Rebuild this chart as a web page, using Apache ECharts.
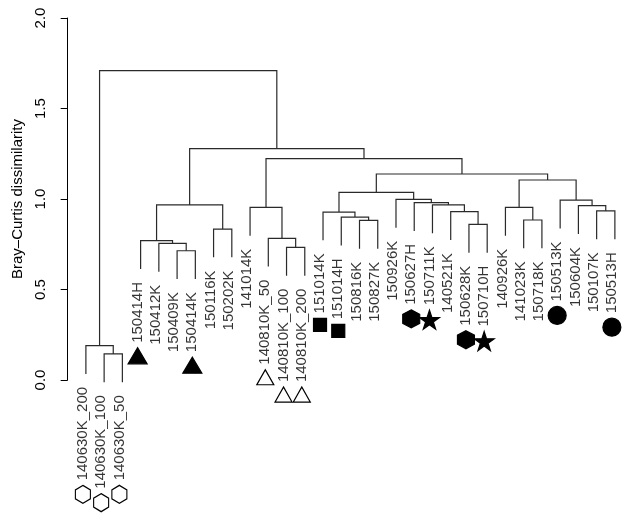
<!DOCTYPE html>
<html>
<head>
<meta charset="utf-8">
<script src="https://cdn.jsdelivr.net/npm/echarts@6/dist/echarts.min.js"></script>
<style>html,body{margin:0;padding:0;background:#fff}#c{width:630px;height:521px}</style>
</head>
<body>
<div id="c"></div>
<script>
// Leaves in dendrogram order
const leafLabels = ['140630K_200','140630K_100','140630K_50','150414H','150412K','150409K','150414K',
  '150116K','150202K','141014K','140810K_50','140810K_100','140810K_200','151014K','151014H',
  '150816K','150827K','150926K','150627H','150711K','140521K','150628K','150710H','140926K',
  '141023K','150718K','150513K','150604K','150107K','150513H'];
// Symbol drawn under each label ('' = none)
const leafSymbols = ['hexOpen','hexOpen','hexOpen','triFill','','','triFill','','','',
  'triOpen','triOpen','triOpen','square','square','','','','hexFill','star','','hexFill','star',
  '','','','circle','','','circle'];
// hclust-style merge table: negative = leaf (1-based), positive = earlier merge row (1-based)
const mergeA = [-2,-1,-6,-5,-4,-8, 5,-12,-11,-10,-16,-15,-14,-22,-21,-20,-19,-18,13,-25,-24,-29,-28,-27,21,19,10, 7, 2];
const mergeB = [-3, 1,-7, 3, 4,-9, 6,-13,  8,  9,-17, 11, 12,-23, 14, 15, 16, 17,18,-26, 20,-30, 22, 23,24,25,26,27,28];
const mergeHeights = [0.144,0.19,0.714,0.755,0.77,0.834,0.967,0.733,0.783,0.954,0.882,0.90,0.928,0.86,0.93,
  0.967,0.98,0.998,1.037,0.884,0.954,0.934,0.963,0.994,1.105,1.138,1.223,1.278,1.709];
const yTicks = [0, 0.5, 1.0, 1.5, 2.0];
const hangFrac = 0.1;

const FONT = 'Liberation Sans';
const FS = 15;
const hMax = Math.max(...mergeHeights), hMin = Math.min(...mergeHeights);
const hang = hangFrac * (hMax - hMin);

// positions of merge nodes
const nodeX = [];
function childX(c) { return c < 0 ? (-c) : nodeX[c - 1]; }
const segs = [];
const leafBottom = new Array(leafLabels.length);
for (let i = 0; i < mergeA.length; i++) {
  const h = mergeHeights[i];
  const a = mergeA[i], b = mergeB[i];
  const xa = childX(a), xb = childX(b);
  const ya = a < 0 ? h - hang : mergeHeights[a - 1];
  const yb = b < 0 ? h - hang : mergeHeights[b - 1];
  if (a < 0) leafBottom[-a - 1] = h - hang;
  if (b < 0) leafBottom[-b - 1] = h - hang;
  nodeX.push((xa + xb) / 2);
  segs.push([xa, ya, xb, yb, h]);
}

const cv = document.createElement('canvas').getContext('2d');
cv.font = FS + 'px "' + FONT + '"';
const labelGap = 13;

const symDefs = {
  hexOpen: {symbol: 'path://M0,-1L0.866,-0.5L0.866,0.5L0,1L-0.866,0.5L-0.866,-0.5Z', size: [15, 18], fill: '#fff'},
  hexFill: {symbol: 'path://M0,-1L0.866,-0.5L0.866,0.5L0,1L-0.866,0.5L-0.866,-0.5Z', size: [17, 18], fill: '#000'},
  triFill: {symbol: 'triangle', size: [19, 16], fill: '#000'},
  triOpen: {symbol: 'triangle', size: [17, 15], fill: '#fff'},
  square: {symbol: 'rect', size: [13, 13], fill: '#000'},
  circle: {symbol: 'circle', size: [18, 18], fill: '#000'},
  star: {symbol: 'path://M0,-1L0.2245,-0.309L0.9511,-0.309L0.3633,0.118L0.5878,0.809L0,0.382L-0.5878,0.809L-0.3633,0.118L-0.9511,-0.309L-0.2245,-0.309Z', size: [20, 19], fill: '#000'}
};

const labelData = leafLabels.map((l, i) => ({value: [i + 1, leafBottom[i]], name: l}));
const symData = [];
leafSymbols.forEach((s, i) => {
  if (!s) return;
  const d = symDefs[s];
  const tw = cv.measureText(leafLabels[i]).width;
  symData.push({
    value: [i + 1, leafBottom[i]],
    symbol: d.symbol,
    symbolSize: d.size,
    symbolOffset: [-3, labelGap + tw + d.size[1] / 2 + 5],
    itemStyle: {color: d.fill, borderColor: '#000', borderWidth: 1.2, opacity: 1}
  });
});

const chart = echarts.init(document.getElementById('c'), null, {renderer: 'canvas'});
chart.setOption({
  animation: false,
  backgroundColor: '#fff',
  grid: {left: 64, right: 6, top: 18, bottom: 141},
  xAxis: {type: 'value', min: -0.2, max: 30.5, show: false},
  yAxis: {
    type: 'value', min: 0, max: 2, interval: 0.5,
    name: 'Bray\u2013Curtis dissimilarity', nameLocation: 'middle', nameRotate: 90, nameGap: 38,
    nameTextStyle: {fontFamily: FONT, fontSize: FS, color: '#000'},
    axisLine: {show: true, lineStyle: {color: '#000', width: 1}},
    axisTick: {show: true, length: 7, lineStyle: {color: '#000'}},
    axisLabel: {rotate: 90, margin: 16, fontFamily: FONT, fontSize: FS, color: '#000',
      formatter: v => v.toFixed(1)},
    splitLine: {show: false}
  },
  series: [
    {
      type: 'custom', clip: false,
      data: segs,
      encode: {x: [0, 2], y: [1, 3, 4]},
      renderItem: function (params, api) {
        const p1 = api.coord([api.value(0), api.value(1)]);
        const p2 = api.coord([api.value(0), api.value(4)]);
        const p3 = api.coord([api.value(2), api.value(4)]);
        const p4 = api.coord([api.value(2), api.value(3)]);
        return {type: 'polyline', shape: {points: [p1, p2, p3, p4]},
          style: {stroke: '#2a2a2a', lineWidth: 1.2, fill: null}};
      }
    },
    {
      type: 'scatter', clip: false, symbolSize: 0,
      data: labelData,
      label: {show: true, rotate: 90, position: [-3, labelGap], align: 'right', verticalAlign: 'middle',
        fontFamily: FONT, fontSize: FS, color: '#000', formatter: p => p.name}
    },
    {
      type: 'scatter', clip: false,
      data: symData
    }
  ]
});
</script>
</body>
</html>
